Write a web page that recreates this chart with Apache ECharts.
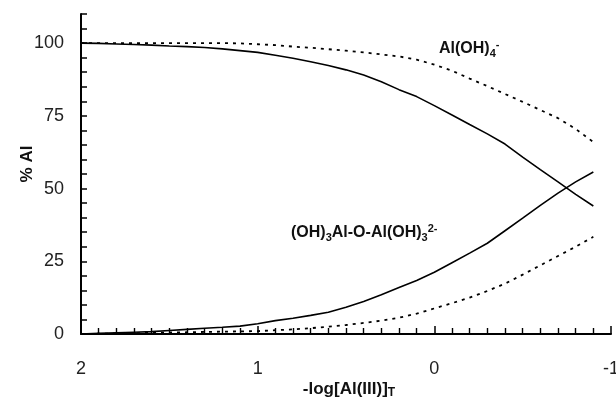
<!DOCTYPE html>
<html>
<head>
<meta charset="utf-8">
<script src="https://cdn.jsdelivr.net/npm/echarts@6/dist/echarts.min.js"></script>
<style>
html,body{margin:0;padding:0;background:#fff;}
#chart{width:616px;height:404px;}
</style>
</head>
<body>
<div id="chart"></div>
<script>
// -log[Al(III)]_T values (x axis, reversed)
const logAl = [2.0,1.9,1.8,1.7,1.6,1.5,1.4,1.3,1.2,1.1,1.0,0.9,0.8,0.7,0.6,0.5,0.4,0.3,0.2,0.1,0.0,-0.1,-0.2,-0.3,-0.4,-0.5,-0.6,-0.7,-0.8,-0.9];
// % Al as Al(OH)4- (solid)
const monomerSolid = [100,99.9,99.7,99.5,99.3,99.0,98.8,98.5,98.0,97.4,96.8,95.8,94.8,93.6,92.3,90.8,89.0,86.7,84.0,81.6,78.5,75.3,72.0,68.8,65.3,60.8,56.5,52.3,48.0,44.0];
// % Al as dimer (solid)
const dimerSolid = [0,0.2,0.4,0.6,0.8,1.2,1.6,2.0,2.3,2.7,3.5,4.6,5.4,6.4,7.5,9.2,11.2,13.5,16.0,18.4,21.2,24.5,27.8,31.2,35.5,39.8,44.2,48.4,52.3,55.7];
// % Al as Al(OH)4- (dotted)
const monomerDotted = [100,100,100,100,100,100,100,100,100,99.9,99.6,99.3,98.8,98.4,97.9,97.4,96.8,96.1,95.4,94.3,92.6,90.5,87.8,85.2,82.5,79.8,77.0,74.2,70.5,66.0];
// % Al as dimer (dotted)
const dimerDotted = [0,0.1,0.2,0.3,0.4,0.5,0.6,0.7,0.8,0.9,1.0,1.3,1.6,2.0,2.5,3.1,3.8,4.6,5.6,7.0,8.8,10.6,12.5,14.8,17.3,20.4,23.6,26.8,30.0,33.4];
const yTickLabels = [0,25,50,75,100];
const xTickLabels = [2,1,0,-1];

const pairs = ys => logAl.map((x,i)=>[x, ys[i]]);
const FONT = '"Liberation Sans", Arial, sans-serif';

const chart = echarts.init(document.getElementById('chart'), null, {renderer:'canvas'});
const solid = {color:'#000', width:1.6, type:'solid'};
const dotted = {color:'#000', width:1.8, type:[3,5]};
function line(name, ys, style){
  return {name, type:'line', data:pairs(ys), showSymbol:false, symbol:'none',
    lineStyle:style, itemStyle:{color:'#000'}, animation:false, z:3};
}
chart.setOption({
  backgroundColor:'#fff',
  animation:false,
  grid:{left:81, right:5, top:14, bottom:70, containLabel:false, outerBoundsMode:'none'},
  xAxis:{
    type:'value', inverse:true, min:-1, max:2, interval:1,
    name:'-log[Al(III)]{sub|T}', nameLocation:'middle', nameGap:45, nameMoveOverlap:false,
    nameTextStyle:{fontFamily:FONT, fontSize:17, fontWeight:'bold', color:'#111', lineHeight:20,
      padding:[0,0,0,6],
      rich:{sub:{fontFamily:FONT, fontSize:12, fontWeight:'bold', color:'#111', lineHeight:9, verticalAlign:'bottom'}}},
    axisLine:{show:true, onZero:false, lineStyle:{color:'#000', width:2}},
    axisTick:{show:true, inside:true, length:8, lineStyle:{color:'#000', width:1.5}},
    minorTick:{show:true, splitNumber:10, length:6, lineStyle:{color:'#000', width:1.4}},
    axisLabel:{fontFamily:FONT, fontSize:18, color:'#222', margin:26, showMinLabel:true, showMaxLabel:true,
      formatter:v=>{ const r=Math.round(v*1000)/1000; return xTickLabels.includes(r) ? String(r) : ''; }},
    splitLine:{show:false}
  },
  yAxis:{
    type:'value', min:0, max:110, interval:5,
    name:'% Al', nameLocation:'middle', nameGap:45, nameMoveOverlap:false,
    nameTextStyle:{fontFamily:FONT, fontSize:17, fontWeight:'bold', color:'#111', padding:[0,0,0,20]},
    axisLine:{show:true, onZero:false, lineStyle:{color:'#000', width:2}},
    axisTick:{show:true, inside:true, length:6, lineStyle:{color:'#000', width:1.5}},
    axisLabel:{fontFamily:FONT, fontSize:18, color:'#222', margin:17,
      formatter:v=> yTickLabels.includes(v) ? String(v) : ''},
    splitLine:{show:false}
  },
  series:[
    line('Al(OH)4- solid', monomerSolid, solid),
    line('dimer solid', dimerSolid, solid),
    line('Al(OH)4- dotted', monomerDotted, dotted),
    line('dimer dotted', dimerDotted, dotted)
  ],
  graphic:[
    {type:'text', x:439, y:39, z:10, style:{
      text:'Al(OH){sub|4}{sup|-}',
      font:'bold 16px '+FONT, fill:'#111', lineHeight:20,
      rich:{
        sub:{font:'bold 11px '+FONT, fill:'#111', lineHeight:9, verticalAlign:'bottom'},
        sup:{font:'bold 11px '+FONT, fill:'#111', lineHeight:11, verticalAlign:'top'}
      }}},
    {type:'text', x:291, y:223, z:10, style:{
      text:'(OH){sub|3}Al-O-Al(OH){sub|3}{sup|2-}',
      font:'bold 16px '+FONT, fill:'#111', lineHeight:20,
      rich:{
        sub:{font:'bold 11px '+FONT, fill:'#111', lineHeight:9, verticalAlign:'bottom'},
        sup:{font:'bold 11px '+FONT, fill:'#111', lineHeight:6, verticalAlign:'top'}
      }}}
  ]
});
</script>
</body>
</html>
